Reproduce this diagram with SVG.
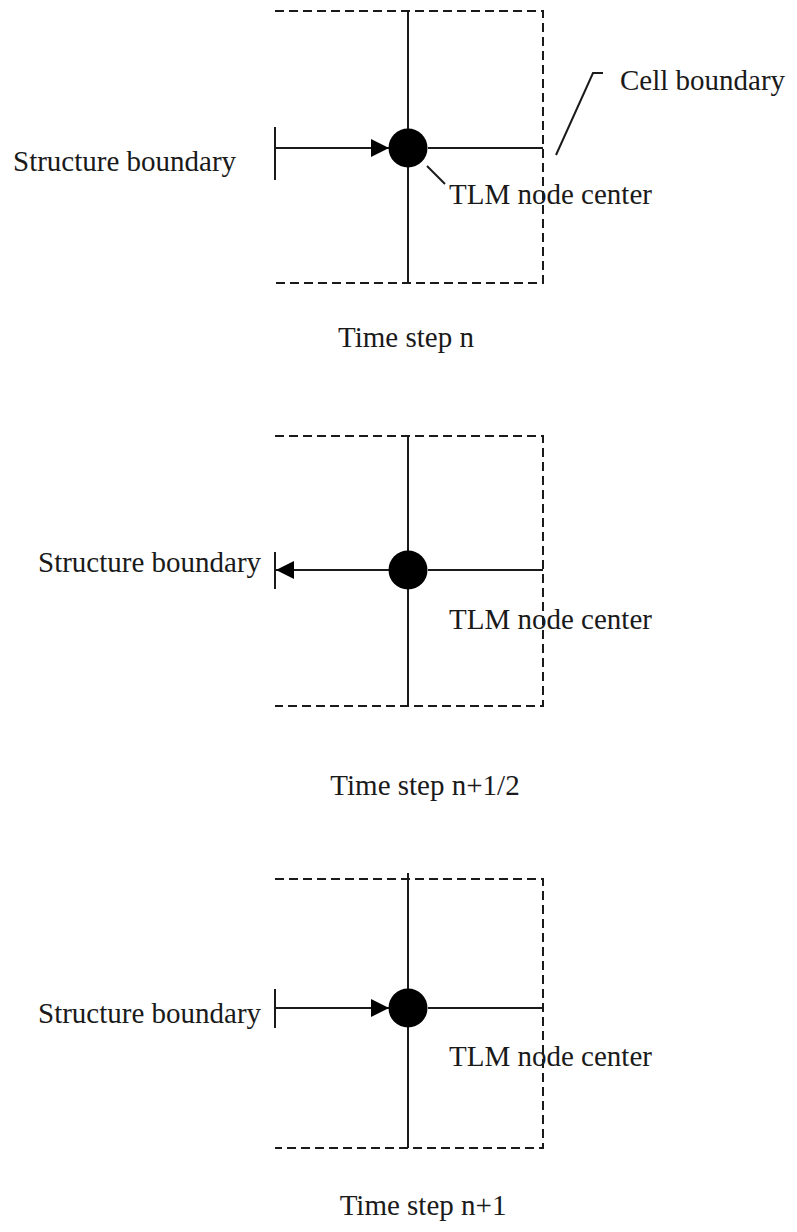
<svg xmlns="http://www.w3.org/2000/svg" width="797" height="1232" viewBox="0 0 797 1232">
<defs>
<style>
.cell{fill:none;stroke:#1a1a1a;stroke-width:2;stroke-dasharray:9 5}
.wire{fill:none;stroke:#1a1a1a;stroke-width:2}
.node{fill:#000}
text{font-family:"Liberation Serif","Times New Roman",serif;font-size:29px;fill:#1a1a1a}
.c{text-anchor:middle}
</style>
<marker id="arr" viewBox="0 0 18 18" refX="18" refY="9" markerWidth="18" markerHeight="18" markerUnits="userSpaceOnUse" orient="auto">
<path d="M0,0 L18,9 L0,18 z" fill="#000"/>
</marker>
</defs>
<rect width="797" height="1232" fill="#fff"/>

<!-- Panel 1 -->
<g id="panel1">
<path class="cell" d="M275,11 H543 V283 H275"/>
<line class="wire" x1="408" y1="11" x2="408" y2="283"/>
<line class="wire" x1="428" y1="148" x2="543" y2="148"/>
<line class="wire" x1="275" y1="127" x2="275" y2="180"/>
<g id="node1"><circle class="node" cx="408" cy="148" r="19.5"/></g>
<text x="13" y="171">Structure boundary</text>
<text x="620" y="90">Cell boundary</text>
<text x="449" y="204">TLM node center</text>
<text class="c" x="406" y="347">Time step n</text>
</g>

<!-- Panel 2 -->
<g id="panel2">
<path class="cell" d="M275,436 H543 V706 H275"/>
<line class="wire" x1="408" y1="436" x2="408" y2="706"/>
<line class="wire" x1="428" y1="570" x2="543" y2="570"/>
<line class="wire" x1="275" y1="552" x2="275" y2="589"/>
<g id="node2"><circle class="node" cx="408" cy="570" r="19.5"/></g>
<text x="38" y="572">Structure boundary</text>
<text x="449" y="629">TLM node center</text>
<text class="c" x="425" y="795">Time step n+1/2</text>
</g>

<!-- Panel 3 -->
<g id="panel3">
<path class="cell" d="M275,879 H543 V1148 H275"/>
<line class="wire" x1="408" y1="873" x2="408" y2="1148"/>
<line class="wire" x1="428" y1="1008" x2="543" y2="1008"/>
<line class="wire" x1="275" y1="989" x2="275" y2="1028"/>
<g id="node3"><circle class="node" cx="408" cy="1008" r="19.5"/></g>
<text x="38" y="1023">Structure boundary</text>
<text x="449" y="1066">TLM node center</text>
<text class="c" x="423" y="1215">Time step n+1</text>
</g>

<!-- Connectors -->
<g id="connectors">
<line class="wire" x1="275" y1="148" x2="389" y2="148" marker-end="url(#arr)"/>
<line class="wire" x1="389" y1="570" x2="276" y2="570" marker-end="url(#arr)"/>
<line class="wire" x1="275" y1="1008" x2="389" y2="1008" marker-end="url(#arr)"/>
<polyline class="wire" points="427,166 445,184"/>
<polyline class="wire" points="556,155 593,73 603,73"/>
</g>
</svg>
